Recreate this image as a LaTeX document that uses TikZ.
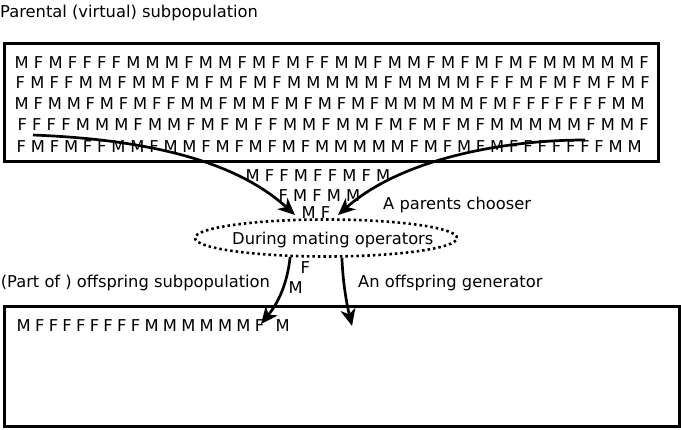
\documentclass[tikz,border=0pt]{standalone}
\usepackage{fontspec}
\setmainfont{DejaVu Sans}
\usetikzlibrary{arrows.meta,shapes.geometric}
\begin{document}
\begin{tikzpicture}
	[x=1pt,y=-1pt,
	 lbl/.style={anchor=base west,inner sep=0pt,font=\fontsize{16.3}{19}\selectfont},
	 popbox/.style={draw,line width=2.6pt,anchor=north west,inner sep=0pt},
	 >={Stealth[length=17pt,width=15pt,inset=5pt]}]
    \useasboundingbox (0,0) rectangle (681,429);

    \node[lbl] (title) at (0,17) {Parental (virtual) subpopulation};
    \node[popbox,minimum width=654pt,minimum height=118pt] (parents) at (3,42) {};
    \node[lbl] (row1) at (14.5,68) {\makebox[634pt][s]{M F M F F F F M M M F M M F M F M F F M M F M M F M F M F M F M M M M M F}};
    \node[lbl] (row2) at (15.5,88) {\makebox[634pt][s]{F M F F M M F M M F M F M F M F M M M M M F M M M M F F F M F M F M F M F}};
    \node[lbl] (row3) at (14.5,109.5) {\makebox[630pt][s]{M F M M F M F M F F M M F M M F M F M F M F M M M M M F M F F F F F F F M M}};
    \node[lbl] (row4) at (17.5,130.5) {\makebox[631pt][s]{F F F F M M M F M M F M F M F F M M F M M F M F M F M F M M M M M F M M F}};
    \node[lbl] (row5) at (16.5,152.5) {\makebox[625pt][s]{F M F M F F M M F M M F M F M F M F M M M M M F M F M F M F F F F F F F M M}};

    \node[lbl] (pick1) at (245.4,181.5) {M F F M F F M F M};
    \node[lbl] (pick2) at (278.4,201.5) {F M F M M};
    \node[lbl] (pick3) at (301.4,218) {M F};
    \node[lbl] (chooser) at (383,209) {A parents chooser};
    \node[ellipse,draw,line width=2.6pt,dash pattern=on 2.5pt off 3pt,minimum width=262pt,minimum height=37pt,inner sep=0pt] (mating) at (326,238) {};
    \node[lbl] (matingtext) at (232,244) {During mating operators};

    \node[lbl] (offlabel) at (0.6,287) {(Part of ) offspring subpopulation};
    \node[lbl] (generator) at (358,287) {An offspring generator};
    \node[lbl] (newF) at (300.4,273) {F};
    \node[lbl] (newM) at (288.4,293) {M};
    \node[popbox,minimum width=675pt,minimum height=120pt] (offspring) at (3,305) {};
    \node[lbl] (child) at (16.5,331.5) {\makebox[247.5pt][s]{M F F F F F F F F M M M M M M F}};
    \node[lbl] (childM) at (275.5,331.5) {M};

    \coordinate (from1) at (33,135);
    \coordinate (from2) at (585,140);
    \coordinate (to1) at (295,215);
    \coordinate (to2) at (338,215);
    \coordinate (to3) at (261,324);
    \coordinate (to4) at (352,326);

    \draw[line width=2.7pt,->] (from1) .. controls (160,140) and (240,165) .. (to1);
    \draw[line width=2.7pt,->] (from2) .. controls (500,140) and (400,160) .. (to2);
    \draw[line width=2.7pt,->] (mating.208) .. controls (287,285) and (278,303) .. (to3);
    \draw[line width=2.7pt,->] (mating.309) .. controls (343,285) and (347,305) .. (to4);

\end{tikzpicture}
\end{document}
